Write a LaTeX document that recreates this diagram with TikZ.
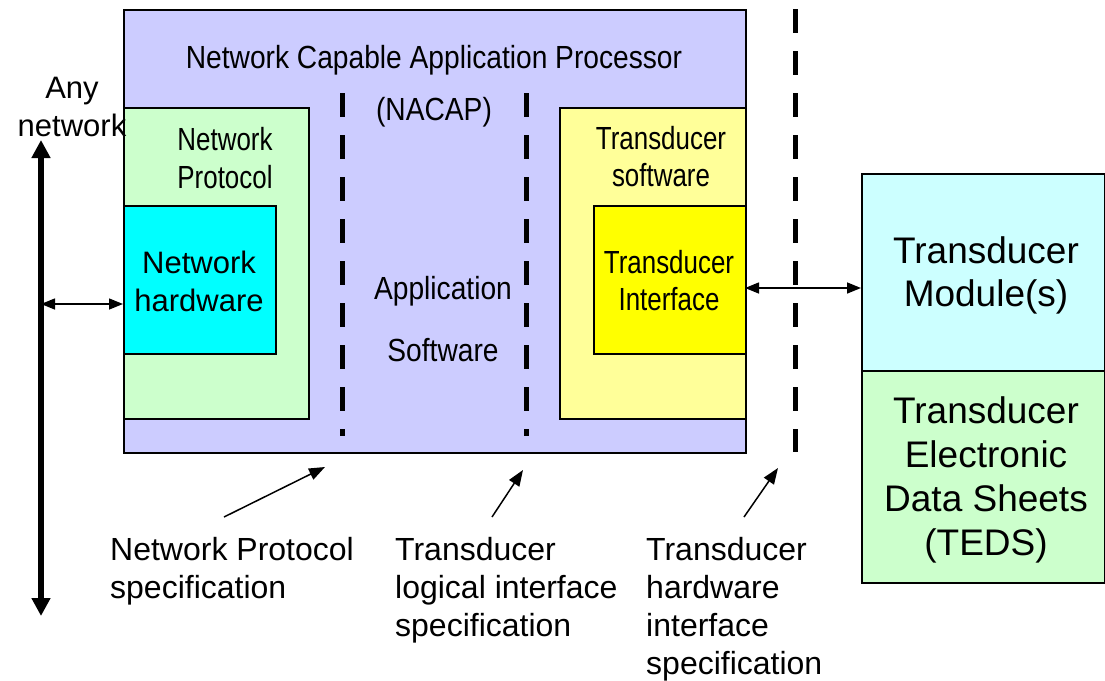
\documentclass[tikz,border=0pt]{standalone}
\usepackage{fontspec}
\setmainfont{Liberation Sans}
\newfontfamily\narrowfont[FakeStretch=0.81]{Liberation Sans}
\newfontfamily\semifont[FakeStretch=0.88]{Liberation Sans}
\usetikzlibrary{arrows.meta}
\definecolor{nacapblue}{HTML}{CCCCFF}
\definecolor{protgreen}{HTML}{CCFFCC}
\definecolor{hwcyan}{HTML}{00FFFF}
\definecolor{swyellow}{HTML}{FFFF99}
\definecolor{ifyellow}{HTML}{FFFF00}
\definecolor{modcyan}{HTML}{CCFFFF}
\tikzset{
  box/.style={draw, line width=2pt, anchor=north west, inner sep=0pt},
  boxlabel/.style={font=\narrowfont\fontsize{32}{38}\selectfont, align=center, inner sep=0pt, anchor=north},
  midlabel/.style={font=\semifont\fontsize{32}{38}\selectfont, inner sep=0pt, anchor=base},
  plainlabel/.style={font=\fontsize{31}{38}\selectfont, align=center, inner sep=0pt, anchor=north},
  speclabel/.style={font=\fontsize{32}{38}\selectfont, align=left, inner sep=0pt, anchor=north west},
  specline/.style={line width=5pt, dash pattern=on 24pt off 18pt},
  link/.style={line width=1.5pt, {Triangle[length=14pt,width=11pt]}-{Triangle[length=14pt,width=11pt]}},
  pointer/.style={line width=1.5pt, -{Triangle[length=16pt,width=12pt]}},
  bus/.style={line width=6pt, {Triangle[length=18pt,width=18pt]}-{Triangle[length=18pt,width=18pt]}}
}
\begin{document}
\begin{tikzpicture}[x=1pt, y=-1pt]
  \useasboundingbox (0,0) rectangle (1105,680);
  % NCAP and its parts
  \node[box, fill=nacapblue, minimum width=622, minimum height=443] (nacap) at (123,9) {};
  \node[box, fill=protgreen, minimum width=185, minimum height=311] (netprot) at (123,107) {};
  \node[box, fill=hwcyan, minimum width=152, minimum height=148] (nethw) at (123,205) {};
  \node[box, fill=swyellow, minimum width=186, minimum height=311] (tsw) at (559,107) {};
  \node[box, fill=ifyellow, minimum width=152, minimum height=148] (tif) at (593,205) {};
  % transducer side
  \node[box, fill=modcyan, minimum width=243, minimum height=197] (tmod) at (861,173) {};
  \node[box, fill=protgreen, minimum width=243, minimum height=212] (teds) at (861,370) {};

  \node[boxlabel, font=\semifont\fontsize{32}{38}\selectfont] (title) at (434,45) {Network Capable Application Processor};
  \node[boxlabel, font=\semifont\fontsize{32}{38}\selectfont] (nacapname) at (434,97) {(NACAP)};
  \node[midlabel] (appl) at (443,299) {Application};
  \node[midlabel] (appsw) at (443,361) {Software};
  \node[boxlabel] (protname) at (225,127) {Network\\Protocol};
  \node[plainlabel] (hwname) at (199,251) {Network\\hardware};
  \node[boxlabel, font=\narrowfont\fontsize{32}{37}\selectfont] (swname) at (661,126) {Transducer\\software};
  \node[boxlabel, font=\narrowfont\fontsize{32}{37}\selectfont] (ifname) at (669,250) {Transducer\\Interface};
  \node[plainlabel] (anynet) at (72,77) {Any\\network};
  \node[plainlabel, font=\fontsize{37}{43}\selectfont] (modname) at (986,236) {Transducer\\Module(s)};
  \node[plainlabel, font=\fontsize{37}{44}\selectfont] (tedsname) at (986,396) {Transducer\\Electronic\\Data Sheets\\(TEDS)};

  % interface boundaries
  \draw[specline] (342,93) -- (342,436);
  \draw[specline] (526,93) -- (526,436);
  \draw[specline] (795,9) -- (795,452);

  % network bus and links
  \coordinate (bustop) at (41,140);
  \coordinate (busbot) at (41,616);
  \draw[bus] (busbot) -- (bustop);
  \coordinate (tap) at (41,304);
  \draw[link] (tap) -- (tap -| nethw.west);
  \coordinate (tport) at (745,288);
  \draw[link] (tport) -- (tport -| tmod.west);

  % specification labels
  \node[speclabel] (npspec) at (110,537) {Network Protocol\\specification};
  \node[speclabel] (tlspec) at (395,537) {Transducer\\logical interface\\specification};
  \node[speclabel] (thspec) at (646,537) {Transducer\\hardware\\interface\\specification};
  \coordinate (nptip) at (325,467);
  \coordinate (tltip) at (523,470);
  \coordinate (thtip) at (778,468);
  \draw[pointer] (224,517) -- (nptip);
  \draw[pointer] (492,517) -- (tltip);
  \draw[pointer] (744,517) -- (thtip);
\end{tikzpicture}
\end{document}
